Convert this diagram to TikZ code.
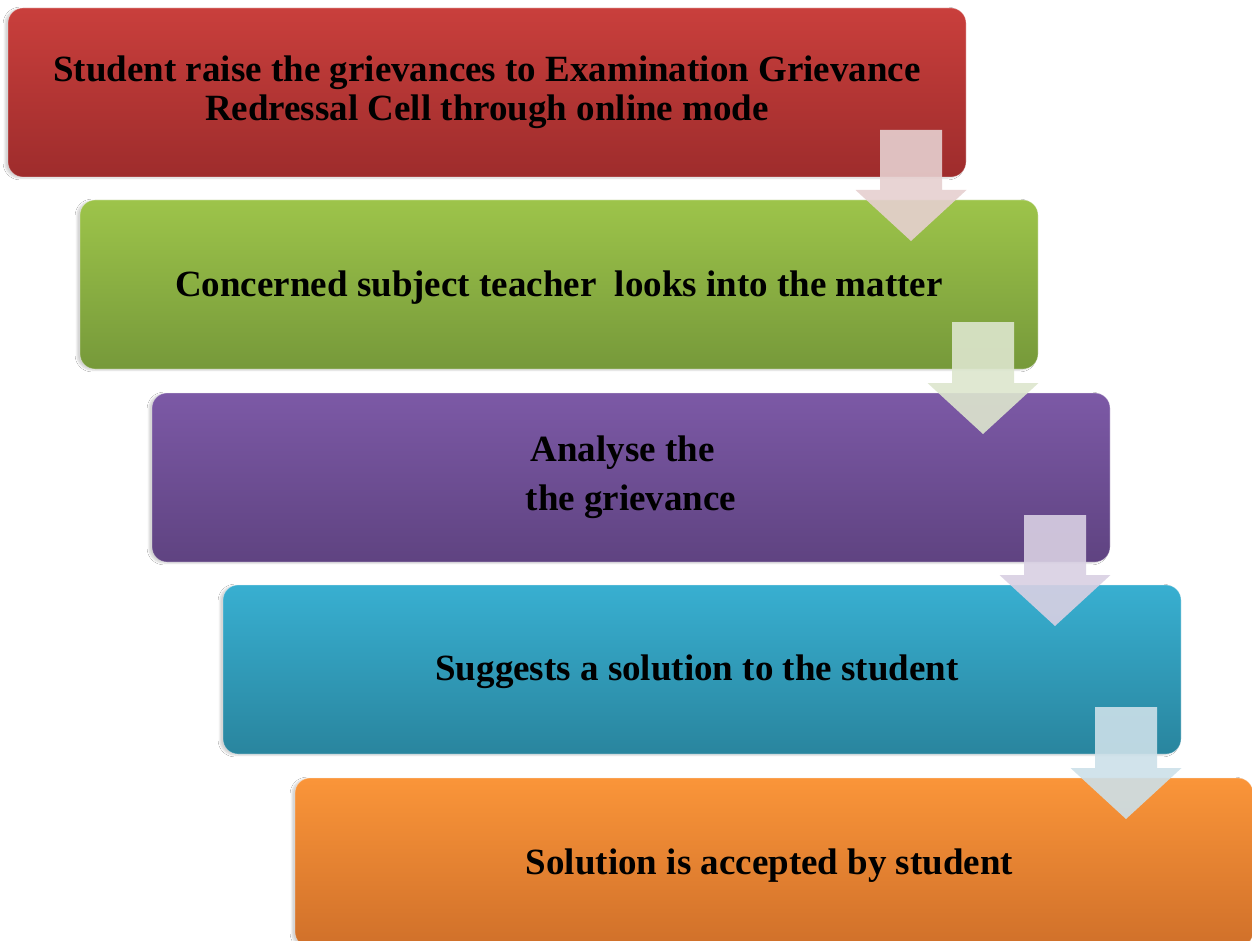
\documentclass[tikz,border=0pt]{standalone}
\usepackage{fontspec}
\setmainfont{Liberation Serif}
\usetikzlibrary{calc,shadows.blur}
\definecolor{cRtop}{HTML}{C93F3C}\definecolor{cRbot}{HTML}{9E2C2C}
\definecolor{cGtop}{HTML}{9DC44A}\definecolor{cGbot}{HTML}{76993A}
\definecolor{cPtop}{HTML}{7C59A6}\definecolor{cPbot}{HTML}{5F4381}
\definecolor{cBtop}{HTML}{38AFD1}\definecolor{cBbot}{HTML}{29859E}
\definecolor{cOtop}{HTML}{FA9539}\definecolor{cObot}{HTML}{D0702A}
\definecolor{aR}{HTML}{E6D0D0}
\definecolor{aG}{HTML}{DDE6CE}
\definecolor{aP}{HTML}{D9D0E3}
\definecolor{aB}{HTML}{CCE0E9}
\newcommand{\blockarr}[3]{%
  \coordinate (#1top) at ($(#1.south east)+(-55,-47)$);
  \coordinate (#1tip) at ($(#1top |- #2.north)+(0,41)$);
  \fill[#3, opacity=0.9] ($(#1top)+(-31,0)$) -- ($(#1tip)+(-31,-51)$)
    -- ($(#1tip)+(-55.5,-51)$) -- (#1tip) -- ($(#1tip)+(55.5,-51)$)
    -- ($(#1tip)+(31,-51)$) -- ($(#1top)+(31,0)$) -- cycle;}
\begin{document}
\begin{tikzpicture}[x=1pt,y=-1pt,
  stepbox/.style={rectangle, rounded corners=15pt, minimum width=958pt,
    minimum height=169pt, anchor=north west, inner sep=0pt, outer sep=0pt,
    font=\fontsize{37}{39}\selectfont\bfseries, align=center,
    execute at begin node={\rule{0pt}{31pt}},
    draw=white, draw opacity=0.35, line width=0.8pt,
    blur shadow={shadow xshift=-3pt, shadow yshift=-1pt, shadow opacity=18, shadow blur steps=6}}]
\useasboundingbox (0,0) rectangle (1252,941);
\fill[white] (0,0) rectangle (1252,941);
\node[stepbox, top color=cRtop, bottom color=cRbot] (n1) at (8,8)
  {Student raise the grievances to Examination Grievance\\Redressal Cell through online mode};
\node[stepbox, top color=cGtop, bottom color=cGbot] (n2) at (80,200)
  {Concerned subject teacher\ \ looks into the matter};
\node[stepbox, top color=cPtop, bottom color=cPbot, align=left] (n3) at (152,393)
  {\hspace*{5pt}Analyse the\\[10pt]the grievance};
\node[stepbox, top color=cBtop, bottom color=cBbot] (n4) at (223,585)
  {Suggests a solution to the student\hspace*{10pt}};
\node[stepbox, top color=cOtop, bottom color=cObot] (n5) at (295,778)
  {Solution is accepted by student\hspace*{9pt}};
\blockarr{n1}{n2}{aR}
\blockarr{n2}{n3}{aG}
\blockarr{n3}{n4}{aP}
\blockarr{n4}{n5}{aB}
\end{tikzpicture}
\end{document}
